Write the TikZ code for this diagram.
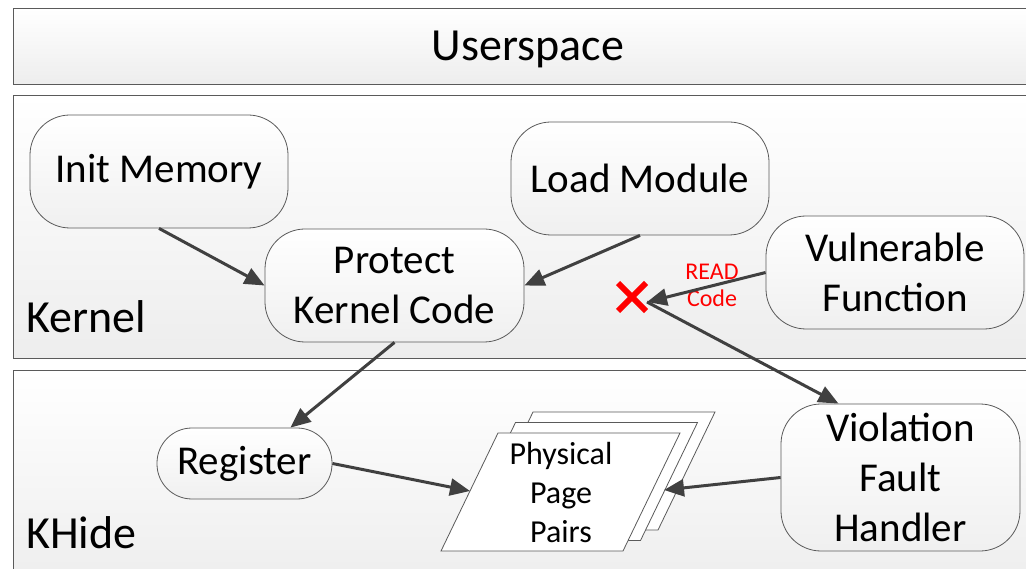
\documentclass[tikz,border=0pt]{standalone}
\usepackage{fontspec}
\setmainfont{Carlito}
\usetikzlibrary{arrows.meta,calc}
\definecolor{edgec}{HTML}{5A5A5A}
\definecolor{arrc}{HTML}{404040}
\begin{document}
\begin{tikzpicture}[x=1pt,y=-1pt,
  panel/.style={draw=edgec, line width=1pt, top color=white, bottom color=black!7, anchor=north west, inner sep=0pt},
  proc/.style={draw=edgec, line width=0.8pt, rounded corners=40pt, top color=white, bottom color=black!6, align=center, font=\fontsize{41}{50}\selectfont, inner sep=0pt},
  flow/.style={draw=arrc, line width=3pt, -{Triangle[length=20pt,width=17pt]}},
  lbl/.style={font=\fontsize{46}{50}\selectfont, inner sep=0pt},
  page/.style={draw=edgec, line width=0.8pt, fill=white},
  xline/.style={draw=red, line width=6pt},
]
\clip (0,0) rectangle (1026,569);
\fill[white] (0,0) rectangle (1026,569);
% panels
\node[panel, minimum width=1030pt, minimum height=76pt] (user) at (13,8) {};
\node[panel, minimum width=1030pt, minimum height=263pt] (kernel) at (13,95) {};
\node[panel, minimum width=1030pt, minimum height=220pt] (khide) at (13,370) {};
\node[lbl, anchor=base] (userlbl) at (528,61) {Userspace};
\node[lbl, anchor=base west] (kernellbl) at (26,333) {Kernel};
\node[lbl, anchor=base west] (khidelbl) at (26,548) {KHide};
% process nodes
\node[proc, minimum width=258pt, minimum height=113pt] (initmem) at (159,171.5) {Init Memory};
\node[proc, minimum width=258pt, minimum height=113pt] (loadmod) at (640,178.5) {Load Module};
\node[proc, minimum width=259pt, minimum height=113pt] (protect) at (394.5,285.5) {Protect\\Kernel Code};
\node[proc, minimum width=258pt, minimum height=113pt] (vuln) at (895,272.5) {Vulnerable\\Function};
\node[proc, rounded corners=35pt, minimum width=175pt, minimum height=71pt] (register) at (244.5,463.5) {Register};
\node[proc, minimum width=239pt, minimum height=147pt] (violation) at (900.5,477.5) {Violation\\Fault\\Handler};
% physical page stack
\foreach \d in {2,1,0}{
  \draw[page, shift={({17.5*\d},{-10.5*\d})}] (441,551) -- (498,433) -- (680,433) -- (623,551) -- cycle;
}
\node[align=center, font=\fontsize{32}{39}\selectfont, inner sep=0pt] (pp) at (561,493) {Physical\\Page\\Pairs};
\coordinate (ppin) at (470,491);
\coordinate (ppout) at (664,490);
% X mark
\coordinate (xmark) at (632,297);
\draw[xline] ([shift={(-14,-14)}]xmark) -- ([shift={(14,14)}]xmark);
\draw[xline] ([shift={(-14,14)}]xmark) -- ([shift={(14,-14)}]xmark);
\coordinate (xhit) at (647,302);
\node[red, font=\fontsize{24}{27}\selectfont, align=center, inner sep=0pt] (readcode) at (712,285) {READ\\Code};
% connectors
\draw[flow] (initmem.south) -- (protect.west);
\draw[flow] (loadmod.south) -- (protect.east);
\draw[flow] (protect.south) -- (register.38);
\draw[flow] (register.east) -- (ppin);
\draw[flow] (violation.west) -- (ppout);
\draw[flow] (vuln.west) -- (xhit);
\draw[flow] (xhit) -- (violation.130);
\end{tikzpicture}
\end{document}
